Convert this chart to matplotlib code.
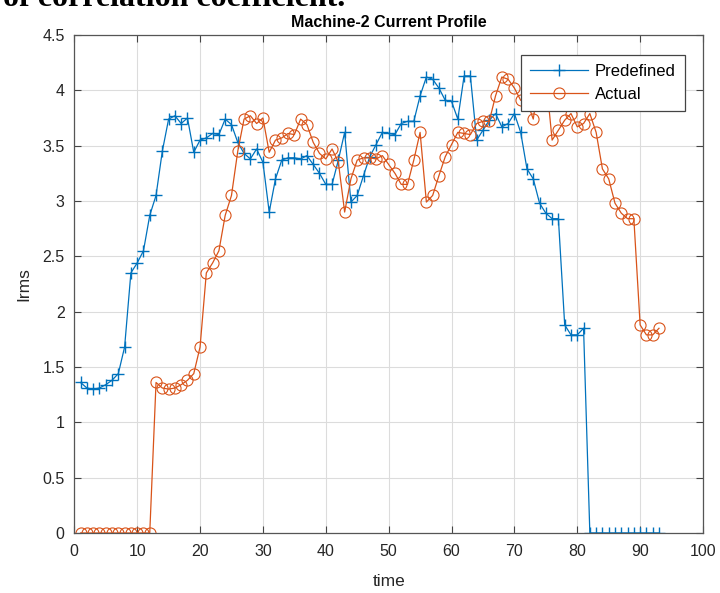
import numpy as np
import matplotlib
matplotlib.use('Agg')
import matplotlib.pyplot as plt

plt.rcParams['font.family'] = ['Liberation Sans', 'DejaVu Sans']

# ── data ───────────────────────────────────────────────────────────────────
time = np.arange(1, 94)

predefined = [1.36, 1.31, 1.30, 1.31, 1.34, 1.38, 1.44, 1.68, 2.35, 2.44,
              2.55, 2.87, 3.05, 3.45, 3.74, 3.77, 3.70, 3.75, 3.44, 3.55,
              3.57, 3.61, 3.60, 3.74, 3.69, 3.53, 3.43, 3.38, 3.47, 3.35,
              2.90, 3.20, 3.37, 3.39, 3.39, 3.38, 3.41, 3.33, 3.25, 3.15,
              3.15, 3.37, 3.62, 2.99, 3.05, 3.23, 3.40, 3.51, 3.62, 3.61,
              3.60, 3.70, 3.72, 3.72, 3.95, 4.12, 4.10, 4.02, 3.91, 3.90,
              3.74, 4.13, 4.13, 3.55, 3.64, 3.73, 3.79, 3.67, 3.70, 3.79,
              3.62, 3.29, 3.20, 2.98, 2.89, 2.84, 2.84, 1.88, 1.79, 1.79,
              1.85, 0, 0, 0, 0, 0, 0, 0, 0, 0,
              0, 0, 0]

actual = [0, 0, 0, 0, 0, 0, 0, 0, 0, 0,
          0, 0, 1.36, 1.31, 1.30, 1.31, 1.34, 1.38, 1.44, 1.68,
          2.35, 2.44, 2.55, 2.87, 3.05, 3.45, 3.74, 3.77, 3.70, 3.75,
          3.44, 3.55, 3.57, 3.61, 3.60, 3.74, 3.69, 3.53, 3.43, 3.38,
          3.47, 3.35, 2.90, 3.20, 3.37, 3.39, 3.39, 3.38, 3.41, 3.33,
          3.25, 3.15, 3.15, 3.37, 3.62, 2.99, 3.05, 3.23, 3.40, 3.51,
          3.62, 3.61, 3.60, 3.70, 3.72, 3.72, 3.95, 4.12, 4.10, 4.02,
          3.91, 3.90, 3.74, 4.13, 4.13, 3.55, 3.64, 3.73, 3.79, 3.67,
          3.70, 3.79, 3.62, 3.29, 3.20, 2.98, 2.89, 2.84, 2.84, 1.88,
          1.79, 1.79, 1.85]

x_ticks = np.arange(0, 101, 10)
y_ticks = np.arange(0, 4.51, 0.5)
y_ticklabels = ['0', '0.5', '1', '1.5', '2', '2.5', '3', '3.5', '4', '4.5']

# ── figure ─────────────────────────────────────────────────────────────────
fig = plt.figure(figsize=(7.2, 5.93), dpi=100)
ax = fig.add_axes([0.1032, 0.1012, 0.8732, 0.8398])

# line of document text above the chart, cropped by the page edge as in the source
fig.text(3 / 720, 1 - 6 / 593, 'of correlation coefficient.',
         family='Liberation Serif', fontweight='bold', fontsize=23,
         va='baseline', ha='left')

ax.plot(time, predefined, '-+', color='#0072BD', lw=0.9, ms=8.5, mew=1.0,
        label='Predefined')
ax.plot(time, actual, '-o', color='#D95319', lw=0.9, ms=8, mew=0.8,
        mfc='none', label='Actual')

ax.set_xlim(0, 100)
ax.set_ylim(0, 4.5)
ax.set_xticks(x_ticks)
ax.set_yticks(y_ticks)
ax.set_yticklabels(y_ticklabels)

ax.grid(True, color='#dcdcdc', lw=0.8)
ax.set_axisbelow(True)
ax.tick_params(direction='in', length=5, width=0.8, colors='#444444',
               labelcolor='#262626', labelsize=11.5, top=True, right=True)
ax.tick_params(axis='x', pad=8)
ax.tick_params(axis='y', pad=7)
for s in ax.spines.values():
    s.set_color('#555555')
    s.set_linewidth(0.9)

ax.set_xlabel('time', fontsize=12.5, color='#262626', labelpad=11)
ax.set_ylabel('Irms', fontsize=12.5, color='#262626', labelpad=8)
ax.set_title('Machine-2 Current Profile', fontsize=11.5, fontweight='bold',
             pad=5.5)

leg = ax.legend(loc='upper right', bbox_to_anchor=(0.9713, 0.9598),
                borderaxespad=0, fontsize=12, fancybox=False, framealpha=1,
                edgecolor='#444444', handlelength=3.5, handletextpad=0.4,
                labelspacing=0.45, borderpad=0.55)
leg.get_frame().set_linewidth(0.9)

fig.savefig('out.png', dpi=100)
